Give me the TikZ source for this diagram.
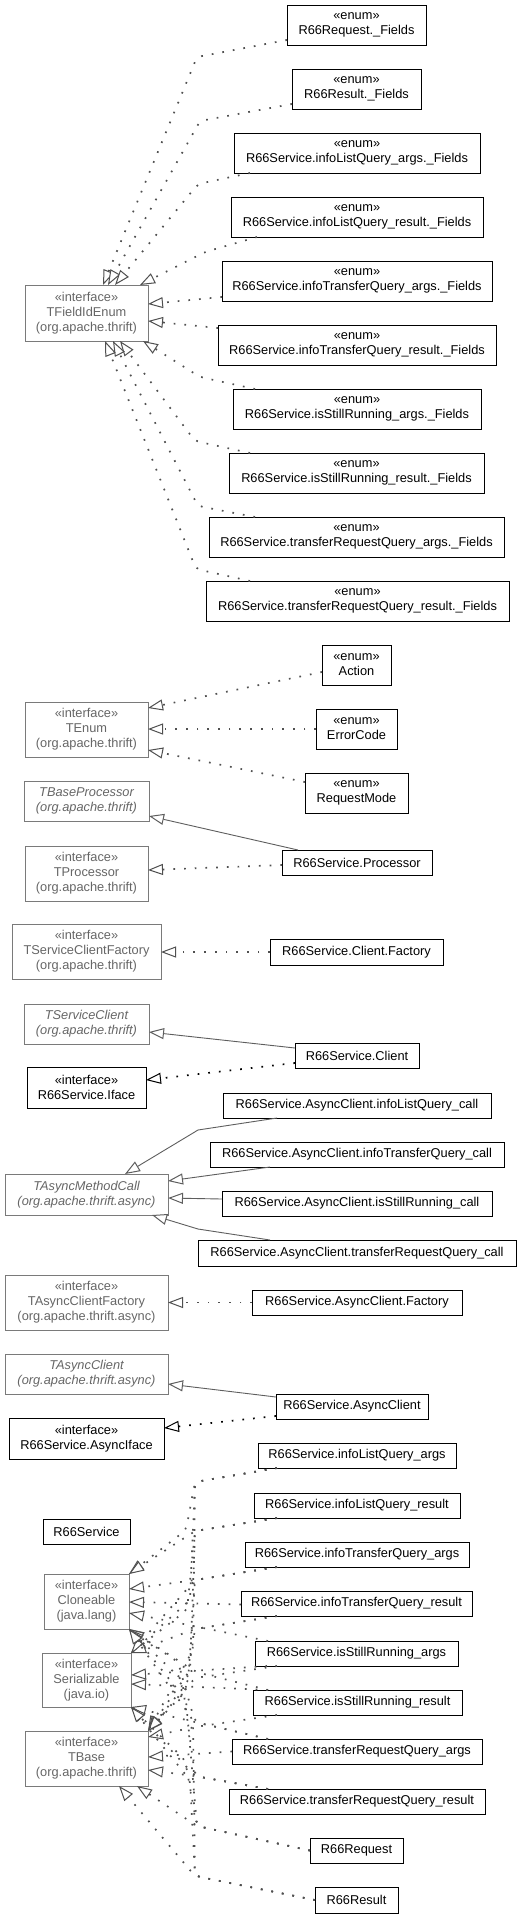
\documentclass[tikz,border=0pt]{standalone}
\usepackage{fontspec}
\setmainfont{Liberation Sans}
\usetikzlibrary{arrows.meta}
\definecolor{extdraw}{HTML}{7A7A7A}
\definecolor{exttext}{HTML}{666666}
\definecolor{solidcol}{HTML}{5E5E5E}
\definecolor{dotcol}{HTML}{505050}
\newcommand\umlfont{\fontsize{12.8}{15}\selectfont}
\newcommand\ubox[7]{\node[#2, minimum width={(#5-#3)*1pt}, minimum height={(#6-#4)*1pt}] (#1) at ({(#3+#5)/2},{(#4+#6)/2}) {#7};}
\begin{document}
\begin{tikzpicture}[x=1pt,y=-1pt,
 umlbase/.style={rectangle, inner sep=0pt, outer sep=0pt, align=center, font=\umlfont},
 extbox/.style={umlbase, draw=extdraw, text=exttext, line width=0.9pt},
 extabs/.style={extbox, font=\umlfont\itshape},
 locbox/.style={umlbase, draw=black, text=black, line width=1pt},
 hollowtip/.style={-{Triangle[length=15pt,width=11pt,fill=white,line width=1pt]}},
 genline/.style={draw=solidcol, line width=0.9pt, hollowtip},
 realline/.style={draw=dotcol, line width=1.7pt, dash pattern=on 1.7pt off 9pt, hollowtip},
 reallineK/.style={realline, draw=black},
 bundle/.style={realline, rounded corners=5pt},
]
\fill[white] (0,0) rectangle (523,1917);
\useasboundingbox (0,0) rectangle (523,1917);

% ---------- TFieldIdEnum group ----------
\ubox{E1}{locbox}{287}{5}{426}{45}{«enum»\\R66Request.\_Fields}
\ubox{E2}{locbox}{292}{69}{421}{109}{«enum»\\R66Result.\_Fields}
\ubox{E3}{locbox}{234}{133}{480}{173}{«enum»\\R66Service.infoListQuery\_args.\_Fields}
\ubox{E4}{locbox}{231}{197}{483}{237}{«enum»\\R66Service.infoListQuery\_result.\_Fields}
\ubox{E5}{locbox}{222}{261}{492}{301}{«enum»\\R66Service.infoTransferQuery\_args.\_Fields}
\ubox{E6}{locbox}{218}{325}{496}{365}{«enum»\\R66Service.infoTransferQuery\_result.\_Fields}
\ubox{E7}{locbox}{233}{389}{481}{429}{«enum»\\R66Service.isStillRunning\_args.\_Fields}
\ubox{E8}{locbox}{229}{453}{484}{493}{«enum»\\R66Service.isStillRunning\_result.\_Fields}
\ubox{E9}{locbox}{209}{517}{504}{557}{«enum»\\R66Service.transferRequestQuery\_args.\_Fields}
\ubox{E10}{locbox}{206}{581}{509}{621}{«enum»\\R66Service.transferRequestQuery\_result.\_Fields}
\ubox{TF}{extbox}{25}{285}{148}{341}{«interface»\\TFieldIdEnum\\(org.apache.thrift)}

\coordinate (w1) at (197,57);
\coordinate (w2) at (200,121);
\coordinate (w3) at (198,184);
\coordinate (w4) at (205,252);
\coordinate (w7) at (200,377);
\coordinate (w8) at (195,441);
\coordinate (w9) at (198,506);
\coordinate (w10) at (196,569);

\draw[bundle] ([yshift=-15pt]E1.west) -- (w1) -- ([xshift=78pt]TF.north west);
\draw[bundle] ([yshift=-15pt]E2.west) -- (w2) -- ([xshift=83pt]TF.north west);
\draw[bundle] ([xshift=16pt]E3.south west) -- (w3) -- ([xshift=90pt]TF.north west);
\draw[bundle] ([xshift=26pt]E4.south west) -- (w4) -- ([xshift=115pt]TF.north west);
\draw[realline] ([yshift=-16pt]E5.west) -- ([yshift=-19pt]TF.north east);
\draw[realline] ([yshift=17pt]E6.west) -- ([yshift=-36pt]TF.north east);
\draw[bundle] ([xshift=22pt]E7.north west) -- (w7) -- ([xshift=118pt]TF.south west);
\draw[bundle] ([xshift=21pt]E8.north west) -- (w8) -- ([xshift=95pt]TF.south west);
\draw[bundle] ([xshift=46pt]E9.north west) -- (w9) -- ([xshift=88pt]TF.south west);
\draw[bundle] ([xshift=44pt]E10.north west) -- (w10) -- ([xshift=80pt]TF.south west);

% ---------- TEnum group ----------
\ubox{Act}{locbox}{322}{645}{391}{685}{«enum»\\Action}
\ubox{Err}{locbox}{316}{709}{397}{749}{«enum»\\ErrorCode}
\ubox{RM}{locbox}{305}{773}{408}{813}{«enum»\\RequestMode}
\ubox{TE}{extbox}{25}{702}{148}{757}{«interface»\\TEnum\\(org.apache.thrift)}
\draw[realline] ([yshift=-7pt]Act.west) -- ([yshift=-6pt]TE.north east);
\draw[realline] (Err.west) -- (Err.west -| TE.east);
\draw[realline] ([yshift=-9pt]RM.north west) -- ([yshift=-48pt]TE.north east);

% ---------- Processor ----------
\ubox{TBP}{extabs}{24}{781}{149}{821}{TBaseProcessor\\(org.apache.thrift)}
\ubox{TP}{extbox}{25}{846}{148}{901}{«interface»\\TProcessor\\(org.apache.thrift)}
\ubox{Proc}{locbox}{282}{850}{432}{875}{R66Service.Processor}
\draw[genline] ([xshift=16pt]Proc.north west) -- ([yshift=5pt]TBP.south east);
\draw[realline] ([yshift=-2.5pt]Proc.west) -- ([yshift=-24pt]TP.north east);

% ---------- Client factory ----------
\ubox{TSCF}{extbox}{12}{924}{161}{979}{«interface»\\TServiceClientFactory\\(org.apache.thrift)}
\ubox{CF}{locbox}{270}{939}{443}{965}{R66Service.Client.Factory}
\draw[realline] (CF.west) -- (CF.west -| TSCF.east);

% ---------- Client ----------
\ubox{TSC}{extabs}{24}{1004}{149}{1044}{TServiceClient\\(org.apache.thrift)}
\ubox{Cli}{locbox}{295}{1043}{419}{1068}{R66Service.Client}
\ubox{If}{locbox}{27}{1067}{146}{1108}{«interface»\\R66Service.Iface}
\draw[genline] ([yshift=-5pt]Cli.north west) -- ([yshift=12pt]TSC.south east);
\draw[reallineK] ([yshift=-7.5pt]Cli.west) -- ([yshift=-13pt]If.north east);

% ---------- Async method calls ----------
\ubox{ILC}{locbox}{223}{1093}{491}{1118}{R66Service.AsyncClient.infoListQuery\_call}
\ubox{ITC}{locbox}{210}{1142}{504}{1167}{R66Service.AsyncClient.infoTransferQuery\_call}
\ubox{TAMC}{extabs}{5}{1174}{168}{1215}{TAsyncMethodCall\\(org.apache.thrift.async)}
\ubox{ISC}{locbox}{222}{1191}{492}{1216}{R66Service.AsyncClient.isStillRunning\_call}
\ubox{TRC}{locbox}{198}{1240}{516}{1266}{R66Service.AsyncClient.transferRequestQuery\_call}
\coordinate (wc1) at (198,1130);
\coordinate (wc4) at (198,1229);
\draw[genline] ([xshift=54pt]ILC.south west) -- (wc1) -- ([xshift=120pt]TAMC.north west);
\draw[genline] ([xshift=60pt]ITC.south west) -- ([yshift=-7pt]TAMC.north east);
\draw[genline] ([yshift=4.5pt]ISC.west) -- ([yshift=-3.5pt]TAMC.east);
\draw[genline] ([xshift=72pt]TRC.north west) -- (wc4) -- ([xshift=147pt]TAMC.south west);

% ---------- Async client factory ----------
\ubox{TACF}{extbox}{5}{1275}{168}{1330}{«interface»\\TAsyncClientFactory\\(org.apache.thrift.async)}
\ubox{ACF}{locbox}{252}{1290}{462}{1315}{R66Service.AsyncClient.Factory}
\draw[realline] (ACF.west) -- (ACF.west -| TACF.east);

% ---------- Async client ----------
\ubox{TAC}{extabs}{5}{1354}{168}{1394}{TAsyncClient\\(org.apache.thrift.async)}
\ubox{AC}{locbox}{276}{1394}{428}{1419}{R66Service.AsyncClient}
\ubox{AIf}{locbox}{9}{1418}{164}{1459}{«interface»\\R66Service.AsyncIface}
\draw[genline] ([yshift=-3pt]AC.north west) -- ([yshift=10pt]TAC.south east);
\draw[reallineK] ([yshift=-9.5pt]AC.west) -- ([yshift=-10pt]AIf.north east);

% ---------- Structs ----------
\ubox{Svc}{locbox}{43}{1519}{130}{1544}{R66Service}
\ubox{Clo}{extbox}{44}{1574}{129}{1629}{«interface»\\Cloneable\\(java.lang)}
\ubox{Ser}{extbox}{42}{1653}{131}{1707}{«interface»\\Serializable\\(java.io)}
\ubox{TB}{extbox}{25}{1731}{148}{1786}{«interface»\\TBase\\(org.apache.thrift)}

\ubox{S1}{locbox}{258}{1443}{456}{1468}{R66Service.infoListQuery\_args}
\ubox{S2}{locbox}{254}{1493}{460}{1518}{R66Service.infoListQuery\_result}
\ubox{S3}{locbox}{245}{1542}{469}{1567}{R66Service.infoTransferQuery\_args}
\ubox{S4}{locbox}{241}{1591}{472}{1616}{R66Service.infoTransferQuery\_result}
\ubox{S5}{locbox}{255}{1641}{458}{1666}{R66Service.isStillRunning\_args}
\ubox{S6}{locbox}{253}{1690}{462}{1715}{R66Service.isStillRunning\_result}
\ubox{S7}{locbox}{232}{1739}{482}{1764}{R66Service.transferRequestQuery\_args}
\ubox{S8}{locbox}{229}{1789}{485}{1814}{R66Service.transferRequestQuery\_result}
\ubox{S9}{locbox}{310}{1838}{403}{1863}{R66Request}
\ubox{S10}{locbox}{315}{1887}{398}{1913}{R66Result}

% ports
\coordinate (cT) at (Clo.north east);
\coordinate (c1) at ([yshift=-15pt]Clo.north east);
\coordinate (c2) at ([yshift=-28pt]Clo.north east);
\coordinate (c3) at ([yshift=-39pt]Clo.north east);
\coordinate (cB) at (Clo.south east);
\coordinate (sT) at (Ser.north east);
\coordinate (s1) at ([yshift=-22pt]Ser.north east);
\coordinate (s2) at ([yshift=-31pt]Ser.north east);
\coordinate (sB) at (Ser.south east);
\coordinate (tT) at (TB.north east);
\coordinate (t1) at ([yshift=-6pt]TB.north east);
\coordinate (t2) at ([yshift=-26pt]TB.north east);
\coordinate (t3) at ([yshift=-39pt]TB.north east);
\coordinate (tB1) at ([xshift=112pt]TB.south west);
\coordinate (tB2) at ([xshift=94pt]TB.south west);
% waypoints
\coordinate (v1) at (195,1482);
\coordinate (v2) at (195,1531);
\coordinate (v3) at (195,1580);
\coordinate (v4) at (195,1629);
\coordinate (v5) at (195,1678);
\coordinate (v6) at (195,1727);
\coordinate (v7) at (195,1722);
\coordinate (v8) at (195,1776);
\coordinate (v9) at (197,1826);
\coordinate (v10) at (195,1876);

% S1
\draw[bundle] ([xshift=19pt]S1.south west) -- (v1) -- (186,1530) -- (cT);
\draw[bundle] ([xshift=19pt]S1.south west) -- (v1) -- (190,1600) -- (sT);
\draw[bundle] ([xshift=19pt]S1.south west) -- (v1) -- (193,1650) -- (tT);
% S2
\draw[bundle] ([xshift=23pt]S2.south west) -- (v2) -- (cT);
\draw[bundle] ([xshift=23pt]S2.south west) -- (v2) -- (187,1610) -- (sT);
\draw[bundle] ([xshift=23pt]S2.south west) -- (v2) -- (190,1670) -- (tT);
% S3
\draw[bundle] ([xshift=32pt]S3.south west) -- (v3) -- (c1);
\draw[bundle] ([xshift=32pt]S3.south west) -- (v3) -- (sT);
\draw[bundle] ([xshift=32pt]S3.south west) -- (v3) -- (188,1682) -- (tT);
% S4
\draw[realline] ([yshift=-1pt]S4.west) -- (c2);
\draw[bundle] ([xshift=36pt]S4.south west) -- (v4) -- (sT);
\draw[bundle] ([xshift=36pt]S4.south west) -- (v4) -- (185,1692) -- (tT);
% S5
\draw[realline] ([xshift=13pt]S5.north west) -- (c3);
\draw[realline] ([xshift=12pt]S5.south west) -- (s1);
\draw[bundle] ([xshift=22pt]S5.south west) -- (v5) -- (tT);
% S6
\draw[bundle] ([xshift=15pt]S6.north west) -- (196,1672) -- (cB);
\draw[realline] ([xshift=15pt]S6.north west) -- (s2);
\draw[bundle] ([xshift=24pt]S6.south west) -- (v6) -- (t1);
% S7
\draw[bundle] ([xshift=36pt]S7.north west) -- (v7) -- (178,1662) -- (cB);
\draw[bundle] ([xshift=36pt]S7.north west) -- (v7) -- (sB);
\draw[realline] (S7.west) -- (t2);
% S8
\draw[bundle] ([xshift=39pt]S8.north west) -- (v8) -- (182,1680) -- (cB);
\draw[bundle] ([xshift=39pt]S8.north west) -- (v8) -- (sB);
\draw[bundle] ([xshift=39pt]S8.north west) -- (v8) -- (t3);
% S9
\draw[bundle] (S9.west) -- (v9) -- (186,1700) -- (cB);
\draw[bundle] (S9.west) -- (v9) -- (185,1760) -- (sB);
\draw[bundle] (S9.west) -- (v9) -- (tB1);
% S10
\draw[bundle] (S10.west) -- (v10) -- (193,1720) -- (cB);
\draw[bundle] (S10.west) -- (v10) -- (190,1780) -- (sB);
\draw[bundle] (S10.west) -- (v10) -- (tB2);
\end{tikzpicture}
\end{document}
